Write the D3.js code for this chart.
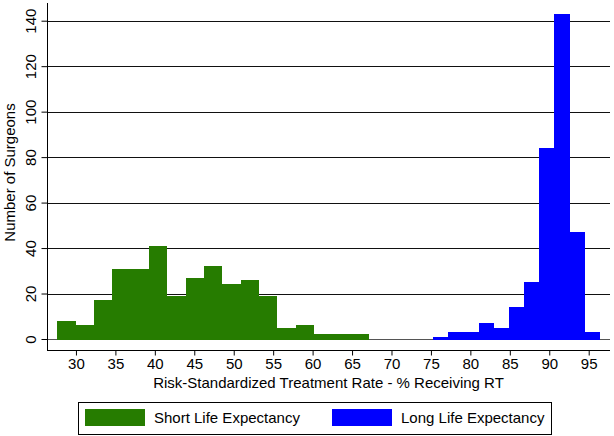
<!DOCTYPE html>
<html>
<head>
<meta charset="utf-8">
<script src="https://cdn.jsdelivr.net/npm/d3@7"></script>
<style>
  html, body { margin: 0; padding: 0; background: #fff; }
  svg { display: block; font-family: "Liberation Sans", Arial, sans-serif; }
</style>
</head>
<body>
<svg id="chart" width="614" height="436"></svg>
<script>
// ---- data ----
const shortCounts = [8, 6, 17, 31, 31, 41, 19, 27, 32, 24, 26, 19, 5, 6, 2, 2, 2];
const shortBinStart = 27.63;
const shortBinWidth = 2.326;
const longCounts = [1, 3, 3, 7, 5, 14, 25, 84, 143, 47, 3];
const longBinStart = 75.29;
const longBinWidth = 1.92;
const xTicks = [30, 35, 40, 45, 50, 55, 60, 65, 70, 75, 80, 85, 90, 95];
const yTicks = [0, 20, 40, 60, 80, 100, 120, 140];
const seriesNames = ["Short Life Expectancy", "Long Life Expectancy"];
const seriesColors = ["#267c00", "#0000ff"];
const xTitle = "Risk-Standardized Treatment Rate - % Receiving RT";
const yTitle = "Number of Surgeons";

// ---- layout ----
const svg = d3.select("#chart");
const plotLeft = 47, plotRight = 610, plotTop = 3, zeroY = 339, axisY = 350;

const x = d3.scaleLinear().domain([26.33, 97.7]).range([plotLeft, plotRight]);
const y = d3.scaleLinear().domain([0, 140]).range([zeroY, 20.7]);

// gridlines
svg.append("g").selectAll("line").data(yTicks).join("line")
  .attr("x1", plotLeft).attr("x2", plotRight)
  .attr("y1", d => Math.round(y(d)) + 0.5).attr("y2", d => Math.round(y(d)) + 0.5)
  .attr("stroke", d => d === 0 ? "#555" : "#111").attr("stroke-width", 1);

function bins(counts, start, width) {
  return counts.map((c, i) => ({ x0: start + i * width, x1: start + (i + 1) * width, c }));
}
const series = [
  bins(shortCounts, shortBinStart, shortBinWidth),
  bins(longCounts, longBinStart, longBinWidth)
];
series.forEach((b, si) => {
  svg.append("g").attr("shape-rendering", "crispEdges")
    .selectAll("rect").data(b).join("rect")
    .attr("x", d => Math.round(x(d.x0)))
    .attr("width", d => Math.round(x(d.x1)) - Math.round(x(d.x0)))
    .attr("y", d => Math.round(y(d.c)))
    .attr("height", d => zeroY + 1 - Math.round(y(d.c)))
    .attr("fill", seriesColors[si]);
});

// x axis
const xAxis = d3.axisBottom(x).tickValues(xTicks).tickSize(5).tickPadding(3);
const gx = svg.append("g").attr("transform", `translate(0,${axisY + 0.5})`).call(xAxis);
gx.select(".domain").attr("d", `M${plotLeft},0H${plotRight}`).attr("stroke", "#000");
gx.selectAll(".tick line").attr("stroke", "#000");
gx.selectAll("text").attr("font-size", 15).attr("fill", "#000")
  .attr("font-family", "Liberation Sans, Arial, sans-serif");

// y axis
const yAxis = d3.axisLeft(y).tickValues(yTicks).tickSize(6).tickFormat(d3.format("d"));
const gy = svg.append("g").attr("transform", `translate(${plotLeft + 0.5},0)`).call(yAxis);
gy.select(".domain").attr("d", `M0,${plotTop}V${axisY}`).attr("stroke", "#000");
gy.selectAll(".tick line").attr("stroke", "#000");
gy.selectAll(".tick text")
  .attr("x", null).attr("dy", null)
  .attr("text-anchor", "middle")
  .attr("transform", "translate(-12,0) rotate(-90)")
  .attr("font-size", 15).attr("fill", "#000")
  .attr("font-family", "Liberation Sans, Arial, sans-serif");

// axis titles
svg.append("text")
  .attr("x", (plotLeft + plotRight) / 2).attr("y", 388)
  .attr("text-anchor", "middle").attr("font-size", 15).attr("fill", "#000")
  .text(xTitle);
svg.append("text")
  .attr("transform", `translate(14.5,${(plotTop + axisY) / 2 - 4}) rotate(-90)`)
  .attr("text-anchor", "middle").attr("font-size", 15).attr("fill", "#000")
  .text(yTitle);

// legend
const lg = svg.append("g");
lg.append("rect").attr("x", 78.5).attr("y", 402.5).attr("width", 473).attr("height", 32)
  .attr("fill", "#fff").attr("stroke", "#000");
const legendItems = [
  { sx: 85, tx: 154 },
  { sx: 332, tx: 401 }
];
legendItems.forEach((it, i) => {
  lg.append("rect").attr("x", it.sx).attr("y", 409).attr("width", 60).attr("height", 17)
    .attr("fill", seriesColors[i]);
  lg.append("text").attr("x", it.tx).attr("y", 423).attr("font-size", 15).attr("fill", "#000")
    .text(seriesNames[i]);
});
</script>
</body>
</html>
